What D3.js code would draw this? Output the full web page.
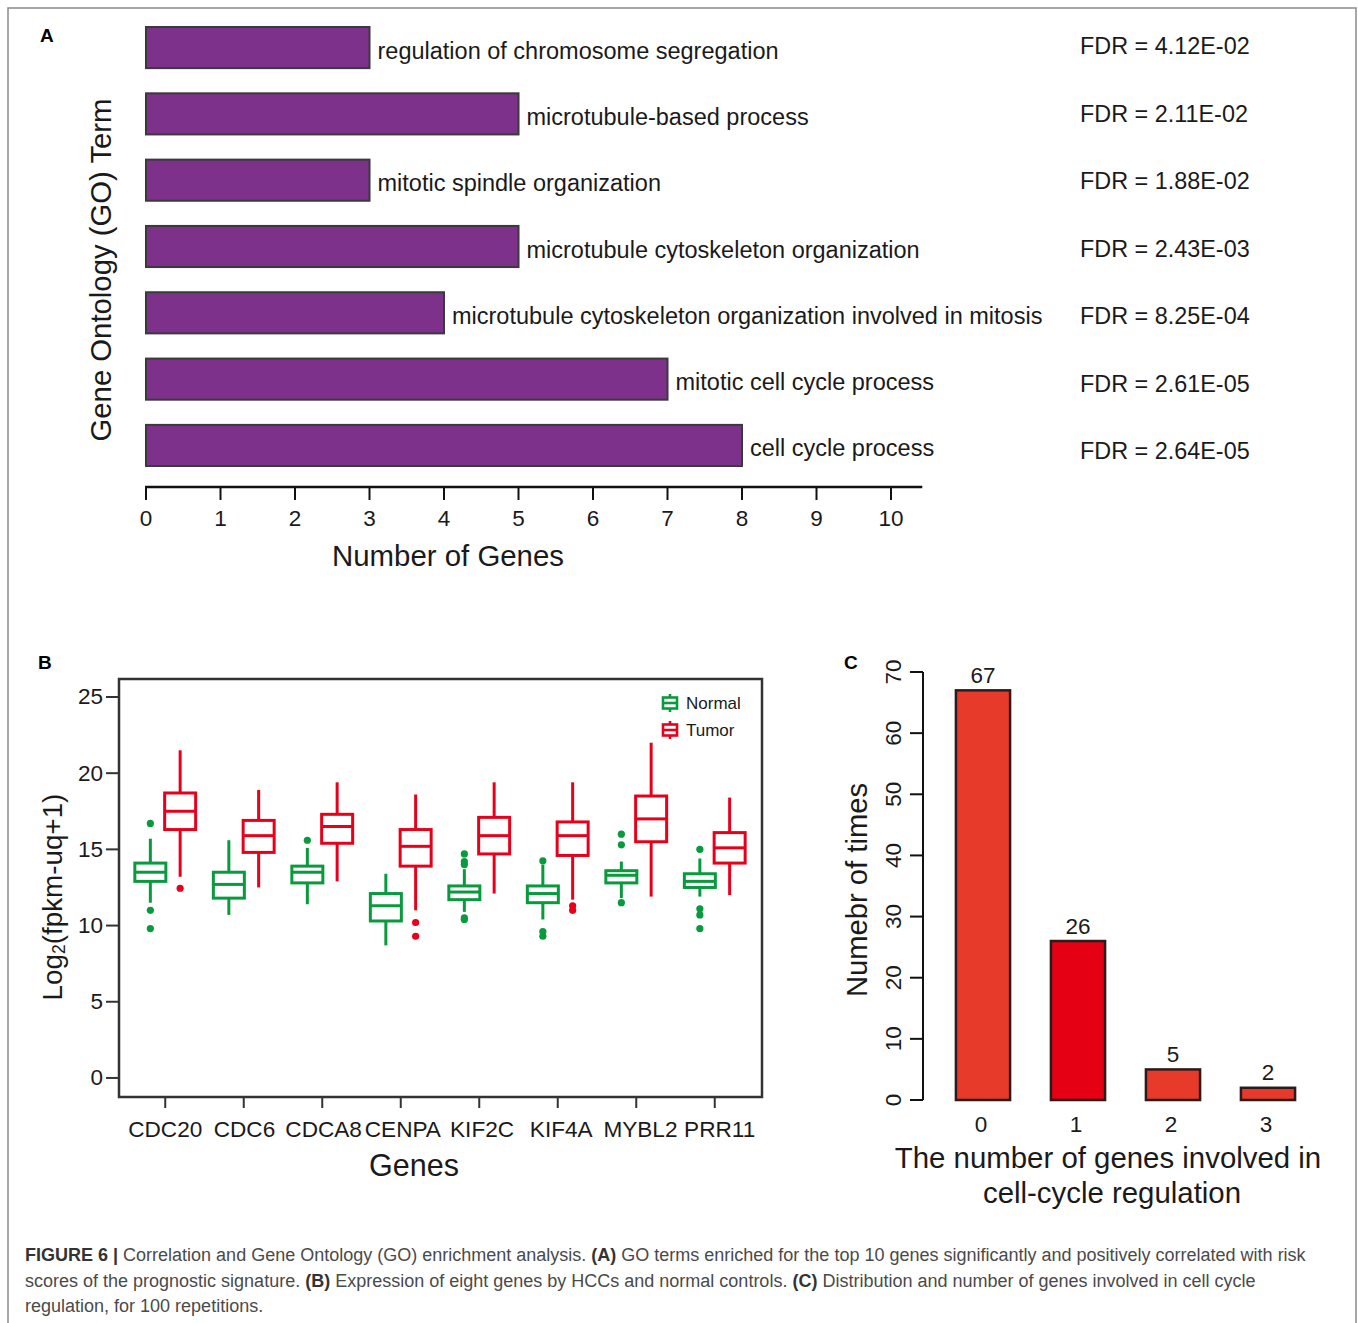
<!DOCTYPE html>
<html>
<head>
<meta charset="utf-8">
<script src="https://cdn.jsdelivr.net/npm/d3@7"></script>
<style>
  html, body { margin: 0; padding: 0; background: #fff; }
  svg { display: block; font-family: "Liberation Sans", Arial, sans-serif; }
</style>
</head>
<body>
<svg id="fig" width="1358" height="1323"></svg>
<script>
// ---------- Panel A: GO enrichment ----------
const goTerms = [
  "regulation of chromosome segregation",
  "microtubule-based process",
  "mitotic spindle organization",
  "microtubule cytoskeleton organization",
  "microtubule cytoskeleton organization involved in mitosis",
  "mitotic cell cycle process",
  "cell cycle process"
];
const goCounts = [3, 5, 3, 5, 4, 7, 8];
const goFDR = ["4.12E-02", "2.11E-02", "1.88E-02", "2.43E-03", "8.25E-04", "2.61E-05", "2.64E-05"];
const goTicks = [0, 1, 2, 3, 4, 5, 6, 7, 8, 9, 10];

// ---------- Panel B: expression box plots ----------
const genes = ["CDC20", "CDC6", "CDCA8", "CENPA", "KIF2C", "KIF4A", "MYBL2", "PRR11"];
// [lower whisker, Q1, median, Q3, upper whisker]
const normalStats = [
  [11.5, 12.9, 13.5, 14.1, 15.7],
  [10.7, 11.8, 12.7, 13.5, 15.6],
  [11.4, 12.8, 13.5, 13.9, 15.1],
  [8.7, 10.3, 11.3, 12.1, 13.4],
  [10.9, 11.7, 12.2, 12.6, 13.7],
  [10.4, 11.5, 12.1, 12.6, 14.0],
  [11.8, 12.8, 13.3, 13.6, 14.2],
  [11.9, 12.5, 12.9, 13.4, 14.4]
];
const tumorStats = [
  [13.2, 16.3, 17.5, 18.7, 21.5],
  [12.5, 14.8, 15.9, 16.9, 18.9],
  [12.9, 15.4, 16.5, 17.3, 19.4],
  [11.0, 13.9, 15.2, 16.3, 18.6],
  [12.1, 14.7, 15.9, 17.1, 19.4],
  [11.7, 14.6, 15.9, 16.8, 19.4],
  [11.9, 15.5, 17.0, 18.5, 22.0],
  [12.0, 14.1, 15.1, 16.1, 18.4]
];
const normalOutliers = [
  [16.7, 11.0, 9.8],
  [],
  [15.6],
  [],
  [14.7, 14.2, 14.0, 10.5, 10.4],
  [14.25, 9.6, 9.3],
  [16.0, 15.3, 11.5],
  [15.0, 11.1, 10.7, 9.8]
];
const tumorOutliers = [
  [12.45],
  [],
  [],
  [10.2, 9.3],
  [],
  [11.3, 11.0],
  [],
  []
];
const exprTicks = [0, 5, 10, 15, 20, 25];
const groups = ["Normal", "Tumor"];

// ---------- Panel C: repetition counts ----------
const geneCountCats = ["0", "1", "2", "3"];
const timesCounts = [67, 26, 5, 2];
const timesTicks = [0, 10, 20, 30, 40, 50, 60, 70];

const captionLines = [
  [["FIGURE 6 |", true], [" Correlation and Gene Ontology (GO) enrichment analysis. ", false], ["(A)", true],
   [" GO terms enriched for the top 10 genes significantly and positively correlated with risk", false]],
  [["scores of the prognostic signature. ", false], ["(B)", true], [" Expression of eight genes by HCCs and normal controls. ", false],
   ["(C)", true], [" Distribution and number of genes involved in cell cycle", false]],
  [["regulation, for 100 repetitions.", false]]
];

// ---------- styles ----------
const purple = "#7d318b";
const barStroke = "#3a3a3a";
const green = "#0a9a3e";
const red = "#e8001b";
const cOrange = "#e83a2a";
const cRed = "#e50014";
const ink = "#1a1a1a";

const svg = d3.select("#fig");

// Outer frame of the figure
svg.append("path")
  .attr("d", "M8,1323 V8 H1356 V1323")
  .attr("fill", "none").attr("stroke", "#8a8a8a").attr("stroke-width", 1.5);

// Panel letters
[["A", 40, 42], ["B", 38, 669], ["C", 844, 669]].forEach(([t, x, y]) => {
  svg.append("text").attr("x", x).attr("y", y).text(t)
    .attr("font-size", 19).attr("font-weight", "bold").attr("fill", "#000");
});

// ================= Panel A =================
{
  const x = d3.scaleLinear().domain([0, 10]).range([146, 891]);
  const y = d3.scaleBand().domain(goTerms).range([14.4, 478.6]).paddingInner(0.38).paddingOuter(0.19);
  const yFdr = d3.scalePoint().domain(goTerms).range([46, 451]);
  const g = svg.append("g");

  g.selectAll("rect.go").data(goTerms).join("rect")
    .attr("x", x(0))
    .attr("y", d => y(d))
    .attr("width", (d, i) => x(goCounts[i]) - x(0))
    .attr("height", y.bandwidth())
    .attr("fill", purple).attr("stroke", barStroke).attr("stroke-width", 2);

  g.selectAll("text.term").data(goTerms).join("text")
    .attr("x", (d, i) => x(goCounts[i]) + 8)
    .attr("y", d => y(d) + y.bandwidth() / 2 + 3)
    .attr("dominant-baseline", "central")
    .attr("font-size", 23.5).attr("fill", ink)
    .text(d => d);

  g.selectAll("text.fdr").data(goTerms).join("text")
    .attr("x", 1080)
    .attr("y", d => yFdr(d))
    .attr("dominant-baseline", "central")
    .attr("font-size", 23.4).attr("fill", ink)
    .text((d, i) => "FDR = " + goFDR[i]);

  // x axis
  const ax = g.append("g").attr("transform", "translate(0,487)");
  ax.append("line").attr("x1", x(0) - 1).attr("x2", x(10.42)).attr("y1", 0).attr("y2", 0)
    .attr("stroke", "#111").attr("stroke-width", 2.5);
  ax.selectAll("line.tk").data(goTicks).join("line")
    .attr("x1", d => x(d)).attr("x2", d => x(d)).attr("y1", 0).attr("y2", 13)
    .attr("stroke", "#111").attr("stroke-width", 2);
  ax.selectAll("text").data(goTicks).join("text")
    .attr("x", d => x(d)).attr("y", 31)
    .attr("dominant-baseline", "central").attr("text-anchor", "middle")
    .attr("font-size", 22.5).attr("fill", ink).text(d => d);

  g.append("text").attr("x", 448).attr("y", 555).attr("dominant-baseline", "central")
    .attr("text-anchor", "middle").attr("font-size", 29.4).attr("fill", ink).text("Number of Genes");

  g.append("text").attr("transform", "translate(100,270) rotate(-90)")
    .attr("dominant-baseline", "central").attr("text-anchor", "middle")
    .attr("font-size", 29.3).attr("fill", ink).text("Gene Ontology (GO) Term");
}

// ================= Panel B =================
{
  const left = 119, right = 762, top = 679, bottom = 1097;
  const y = d3.scaleLinear().domain([-1.25, 26.18]).range([bottom, top]);
  const x = d3.scaleBand().domain(genes).range([126, 754]);
  const off = d3.scaleBand().domain(groups).range([-29.5, 29.5]).paddingInner(0.02);
  const boxW = 31;
  const g = svg.append("g");

  function drawGroup(stats, outliers, grp, color) {
    const cx = gene => x(gene) + x.bandwidth() / 2 + off(grp) + off.bandwidth() / 2;
    const gg = g.append("g").attr("stroke", color).attr("stroke-width", 3).attr("fill", "none");
    genes.forEach((gene, i) => {
      const [lo, q1, med, q3, hi] = stats[i];
      const c = cx(gene);
      gg.append("line").attr("x1", c).attr("x2", c).attr("y1", y(hi)).attr("y2", y(q3));
      gg.append("line").attr("x1", c).attr("x2", c).attr("y1", y(q1)).attr("y2", y(lo));
      gg.append("rect").attr("x", c - boxW / 2).attr("y", y(q3))
        .attr("width", boxW).attr("height", y(q1) - y(q3));
      gg.append("line").attr("x1", c - boxW / 2).attr("x2", c + boxW / 2).attr("y1", y(med)).attr("y2", y(med));
      outliers[i].forEach(v => {
        g.append("circle").attr("cx", c).attr("cy", y(v)).attr("r", 3.6).attr("fill", color);
      });
    });
  }
  drawGroup(normalStats, normalOutliers, "Normal", green);
  drawGroup(tumorStats, tumorOutliers, "Tumor", red);

  // frame
  g.append("rect").attr("x", left).attr("y", top).attr("width", right - left).attr("height", bottom - top)
    .attr("fill", "none").attr("stroke", "#333").attr("stroke-width", 2.5);

  // y axis
  g.selectAll("line.yt").data(exprTicks).join("line")
    .attr("x1", left - 13).attr("x2", left).attr("y1", d => y(d)).attr("y2", d => y(d))
    .attr("stroke", "#333").attr("stroke-width", 2);
  g.selectAll("text.yl").data(exprTicks).join("text")
    .attr("x", left - 16).attr("y", d => y(d)).attr("dominant-baseline", "central")
    .attr("text-anchor", "end").attr("font-size", 22.5).attr("fill", ink).text(d => d);

  // x axis
  g.selectAll("line.xt").data(genes).join("line")
    .attr("x1", d => x(d) + x.bandwidth() / 2).attr("x2", d => x(d) + x.bandwidth() / 2)
    .attr("y1", bottom).attr("y2", bottom + 11)
    .attr("stroke", "#333").attr("stroke-width", 2);
  g.selectAll("text.xl").data(genes).join("text")
    .attr("x", (d, i) => x(d) + x.bandwidth() / 2 + i * 0.7).attr("y", 1129).attr("dominant-baseline", "central")
    .attr("text-anchor", "middle").attr("font-size", 22.6).attr("fill", ink).text(d => d);

  g.append("text").attr("x", 414).attr("y", 1165).attr("dominant-baseline", "central")
    .attr("text-anchor", "middle").attr("font-size", 30.5).attr("fill", ink).text("Genes");

  const yl = g.append("text").attr("transform", "translate(52,897) rotate(-90)")
    .attr("dominant-baseline", "central").attr("text-anchor", "middle")
    .attr("font-size", 27.8).attr("fill", ink);
  yl.append("tspan").text("Log");
  yl.append("tspan").attr("font-size", 17.5).attr("dy", 7).text("2");
  yl.append("tspan").attr("dy", -7).text("(fpkm-uq+1)");

  // legend
  const leg = g.append("g");
  groups.forEach((grp, i) => {
    const color = grp === "Normal" ? green : red;
    const ly = 703 + i * 27;
    const lg = leg.append("g").attr("stroke", color).attr("stroke-width", 2.6).attr("fill", "none");
    lg.append("line").attr("x1", 670).attr("x2", 670).attr("y1", ly - 9).attr("y2", ly + 9);
    lg.append("rect").attr("x", 663).attr("y", ly - 5.5).attr("width", 14).attr("height", 11).attr("fill", "#fff");
    lg.append("line").attr("x1", 663).attr("x2", 677).attr("y1", ly).attr("y2", ly);
    leg.append("text").attr("x", 686).attr("y", ly).attr("dominant-baseline", "central")
      .attr("font-size", 17).attr("fill", ink).text(grp);
  });
}

// ================= Panel C =================
{
  const axisX = 923;
  const y = d3.scaleLinear().domain([0, 70]).range([1100, 672]);
  const x = d3.scaleBand().domain(geneCountCats).range([935.5, 1315.5]).paddingInner(0.43).paddingOuter(0.215);
  const g = svg.append("g");

  g.selectAll("rect.cb").data(geneCountCats).join("rect")
    .attr("x", d => x(d)).attr("y", (d, i) => y(timesCounts[i]))
    .attr("width", x.bandwidth()).attr("height", (d, i) => y(0) - y(timesCounts[i]))
    .attr("fill", (d, i) => i === 1 ? cRed : cOrange)
    .attr("stroke", "#2b1b1b").attr("stroke-width", 2.5);

  g.selectAll("text.cv").data(geneCountCats).join("text")
    .attr("x", d => x(d) + x.bandwidth() / 2).attr("y", (d, i) => y(timesCounts[i]) - 15)
    .attr("dominant-baseline", "central").attr("text-anchor", "middle")
    .attr("font-size", 22.5).attr("fill", ink).text((d, i) => timesCounts[i]);

  g.append("line").attr("x1", axisX).attr("x2", axisX).attr("y1", y(70)).attr("y2", y(0))
    .attr("stroke", "#111").attr("stroke-width", 2);
  g.selectAll("line.ct").data(timesTicks).join("line")
    .attr("x1", axisX - 13).attr("x2", axisX).attr("y1", d => y(d)).attr("y2", d => y(d))
    .attr("stroke", "#111").attr("stroke-width", 2);
  g.selectAll("text.cl").data(timesTicks).join("text")
    .attr("transform", d => `translate(893,${y(d)}) rotate(-90)`)
    .attr("dominant-baseline", "central").attr("text-anchor", "middle")
    .attr("font-size", 22.5).attr("fill", ink).text(d => d);

  g.selectAll("text.cx").data(geneCountCats).join("text")
    .attr("x", d => x(d) + x.bandwidth() / 2 - 2).attr("y", 1124)
    .attr("dominant-baseline", "central").attr("text-anchor", "middle")
    .attr("font-size", 22.5).attr("fill", ink).text(d => d);

  g.append("text").attr("transform", "translate(857,890) rotate(-90)")
    .attr("dominant-baseline", "central").attr("text-anchor", "middle")
    .attr("font-size", 29.2).attr("fill", ink).text("Numebr of times");

  g.append("text").attr("x", 1108).attr("y", 1157).attr("dominant-baseline", "central")
    .attr("text-anchor", "middle").attr("font-size", 29.4).attr("fill", ink).text("The number of genes involved in");
  g.append("text").attr("x", 1112).attr("y", 1192).attr("dominant-baseline", "central")
    .attr("text-anchor", "middle").attr("font-size", 29.4).attr("fill", ink).text("cell-cycle regulation");
}

// ================= Caption =================
{
  const cap = svg.append("g");
  captionLines.forEach((parts, i) => {
    const t = cap.append("text").attr("x", 25).attr("y", 1255 + i * 25.5)
      .attr("dominant-baseline", "central").attr("font-size", 18).attr("fill", "#4a4a4a");
    parts.forEach(([s, b]) => {
      t.append("tspan").attr("font-weight", b ? "bold" : "normal").attr("fill", b ? "#333" : "#4a4a4a").text(s);
    });
  });
}
</script>
</body>
</html>
